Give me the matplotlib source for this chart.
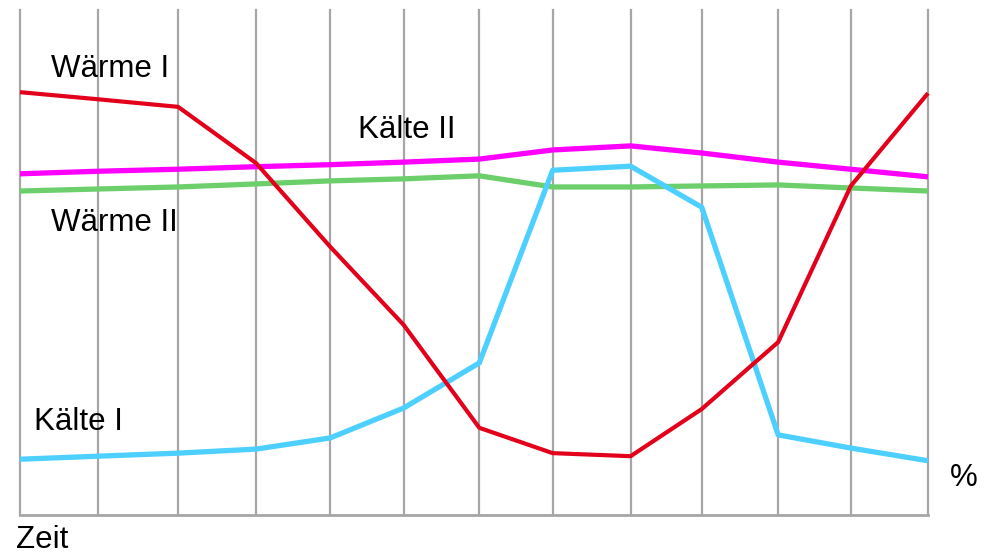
import matplotlib
matplotlib.use("Agg")
import matplotlib.pyplot as plt

plt.rcParams['font.family'] = ['Liberation Sans', 'DejaVu Sans']

# time positions of the samples
zeit = [0, 1.03, 2.09, 3.12, 4.10, 5.07, 6.07, 7.04, 8.07, 9.01, 10.02, 10.98, 12]

waerme_1 = [83.4, 82.0, 80.5, 69.4, 52.9, 37.5, 17.2, 12.2, 11.6, 20.9, 34.1, 64.9, 83.2]
kaelte_2 = [67.3, 67.8, 68.2, 68.7, 69.1, 69.6, 70.2, 72.0, 72.8, 71.4, 69.6, 68.2, 66.7]
waerme_2 = [63.9, 64.3, 64.7, 65.3, 65.9, 66.3, 66.9, 64.7, 64.7, 64.9, 65.1, 64.5, 63.9]
kaelte_1 = [11.0, 11.6, 12.2, 13.0, 15.2, 21.1, 30.0, 68.0, 68.8, 60.7, 15.8, 13.2, 10.7]

W, H = 986, 556
fig = plt.figure(figsize=(W / 100, H / 100), dpi=100)
ax = fig.add_axes([20 / W, (H - 515) / H, 908 / W, 507 / H])
ax.set_xlim(0, 12)
ax.set_ylim(0, 100)

grid_c = '#a6a6a6'
for x in zeit:
    ax.axvline(x, ymax=0.997, color=grid_c, lw=1.6, zorder=1, clip_on=False)
for s in ['top', 'right', 'left']:
    ax.spines[s].set_visible(False)
ax.spines['bottom'].set_color(grid_c)
ax.spines['bottom'].set_linewidth(2)
ax.set_xticks([])
ax.set_yticks([])

ax.plot(zeit, waerme_2, color='#6ccf6c', lw=3.8, zorder=3, clip_on=False, solid_capstyle='butt')
ax.plot(zeit, kaelte_2, color='#ff00ff', lw=3.8, zorder=4, clip_on=False, solid_capstyle='butt')
ax.plot(zeit, kaelte_1, color='#4dd0ff', lw=3.8, zorder=5, clip_on=False, solid_capstyle='butt')
ax.plot(zeit, waerme_1, color='#e3001b', lw=3.0, zorder=6, clip_on=False, solid_capstyle='butt')

fs = 22.5
def label(px, py, s):
    fig.text(px / W, 1 - py / H, s, fontsize=fs, va='baseline', ha='left', color='black')

label(51, 77, 'Wärme I')
label(358, 138, 'Kälte II')
label(51, 231, 'Wärme II')
label(34, 430, 'Kälte I')
label(950, 486, '%')
label(16, 548, 'Zeit')

fig.savefig('out.png', dpi=100)
